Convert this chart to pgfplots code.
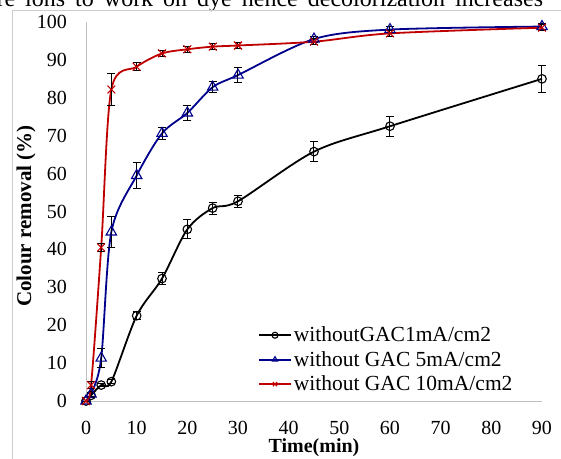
\documentclass[border=0pt]{standalone}
\usepackage{fontspec}
\setmainfont{Liberation Serif}
\usepackage{pgfplots}
\pgfplotsset{compat=1.18}
\usepackage{pgfplotstable}

\definecolor{navy}{RGB}{0,0,140}
\definecolor{exred}{RGB}{192,0,0}
\definecolor{axgray}{RGB}{191,191,191}
\definecolor{bordergray}{RGB}{205,205,205}

\pgfplotstableread{
t y e
0 0 0
1 1.5 0.5
3 4.2 0.5
5 5.1 0.5
10 22.5 1.0
15 32.3 1.5
20 45.3 2.5
25 50.9 1.6
30 52.7 1.6
45 65.8 2.6
60 72.5 2.6
90 85 3.6
}\blackdata

\pgfplotstableread{
t y e
0 0 0
1 1.8 0.5
3 11.3 2.5
5 44.6 4
10 59.5 3.3
15 70.6 1.5
20 76 2
25 82.8 1.5
30 86 2
45 95.5 0.8
60 98 0.8
90 98.8 0.8
}\bluedata

\pgfplotstableread{
t y e
0 0 0
1 4.2 1
3 40.5 1
5 82.2 4.3
10 88.2 1
15 91.7 0.8
20 92.8 0.8
25 93.5 0.8
30 93.8 0.8
45 94.8 0.8
60 97 0.8
90 98.5 0.8
}\reddata

\begin{document}
\begin{tikzpicture}
\path[use as bounding box] (0pt,0pt) rectangle (561pt,458pt);
\node[anchor=base west, inner sep=0pt, font=\fontsize{24}{24}\selectfont] at (-3.6pt,451pt) {\spaceskip=10pt re ions to work on dye hence decolorization increases};
\draw[bordergray, line width=0.8pt] (12pt,-20pt) rectangle (620pt,448pt);
\begin{axis}[
  at={(86pt,57pt)}, anchor=south west,
  scale only axis, width=456pt, height=379pt,
  xmin=0, xmax=90, ymin=0, ymax=100,
  xtick={0,10,...,90}, ytick={0,10,...,100},
  axis x line*=bottom, axis y line*=left,
  axis line style={axgray, line width=0.9pt},
  major tick length=0pt, tick style={draw=none},
  xticklabel={\pgfmathprintnumber[assume math mode=true]{\tick}},
  yticklabel={\pgfmathprintnumber[assume math mode=true]{\tick}},
  tick label style={font=\fontsize{20}{24}\selectfont, inner sep=0pt},
  yticklabel style={anchor=east, xshift=-19pt},
  xticklabel style={anchor=north, yshift=-20pt},
  xlabel={\textbf{Time(min)}},
  ylabel={\textbf{Colour removal (\%)}},
  every axis x label/.style={at={(axis description cs:0.5,0)}, anchor=center, yshift=-47pt, font=\fontsize{20}{24}\selectfont},
  every axis y label/.style={at={(axis description cs:0,0.5)}, xshift=-60pt, yshift=-4.5pt, rotate=90, anchor=center, font=\fontsize{21}{24}\selectfont},
  clip=false,
  legend cell align=left,
  legend style={at={(rel axis cs:0.377,0.201)}, anchor=north west, draw=none, fill=none,
    font=\fontsize{21.5}{21.5}\selectfont, row sep=4pt, inner sep=0pt},
  legend image code/.code={\draw[mark repeat=2,mark phase=2,#1, mark size=3pt] plot coordinates {(0pt,0pt) (16pt,0pt) (32pt,0pt)};},
]
\addplot[black, line width=1.8pt, smooth, mark=o, mark size=4.3pt, mark options={line width=1.1pt, solid},
  error bars/.cd, y dir=both, y explicit,
  error bar style={black, line width=1pt},
  error mark options={black, rotate=90, mark size=4pt, line width=1pt}]
  table[x=t, y=y, y error=e] {\blackdata};
\addlegendentry{withoutGAC1mA/cm2}
\addplot[navy, line width=1.8pt, smooth, mark=triangle, mark size=6pt, mark options={line width=1.1pt, solid},
  error bars/.cd, y dir=both, y explicit,
  error bar style={black, line width=1pt},
  error mark options={black, rotate=90, mark size=4pt, line width=1pt}]
  table[x=t, y=y, y error=e] {\bluedata};
\addlegendentry{without GAC 5mA/cm2}
\addplot[exred, line width=1.8pt, smooth, mark=x, mark size=5.5pt, mark options={line width=1.1pt, solid},
  error bars/.cd, y dir=both, y explicit,
  error bar style={black, line width=1pt},
  error mark options={black, rotate=90, mark size=4pt, line width=1pt}]
  table[x=t, y=y, y error=e] {\reddata};
\addlegendentry{without GAC 10mA/cm2}
\end{axis}
\end{tikzpicture}
\end{document}
